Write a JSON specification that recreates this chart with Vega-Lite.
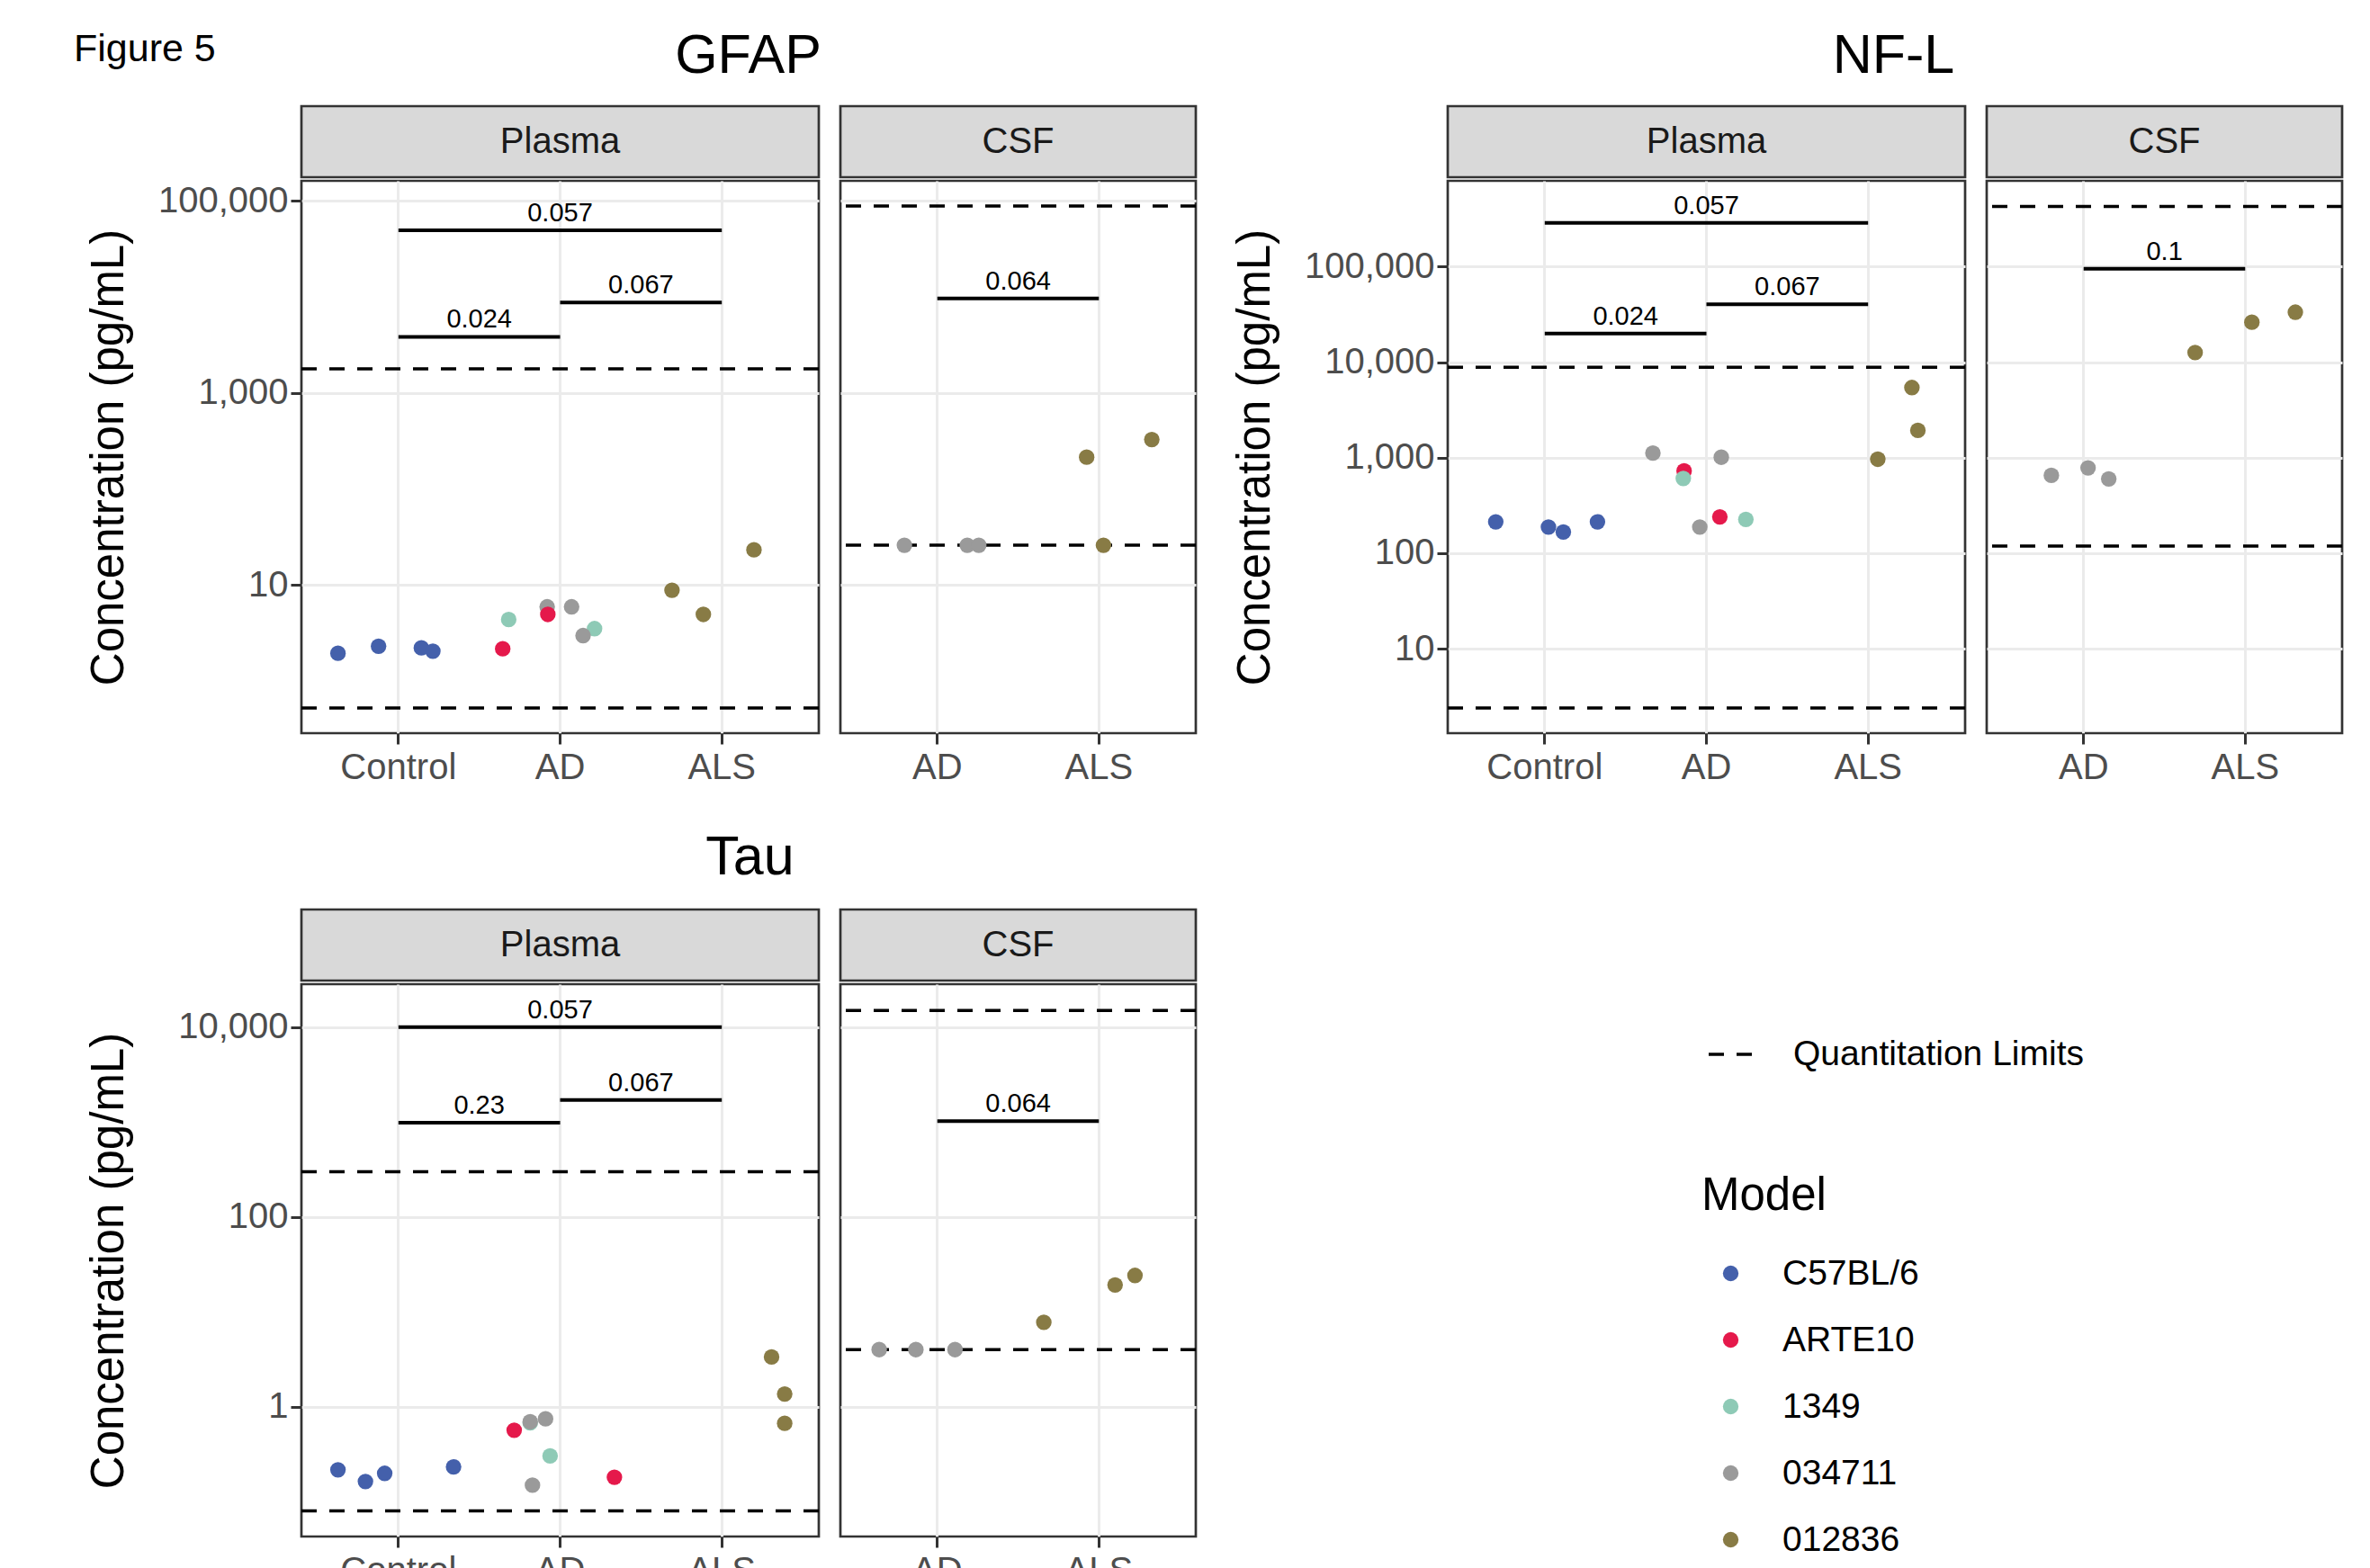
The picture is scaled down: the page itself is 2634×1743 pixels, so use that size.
{
  "$schema": "https://vega.github.io/schema/vega-lite/v6.json",
  "padding": {"left": 80, "top": 30, "right": 5, "bottom": 5},
  "datasets": {
    "points": [
      {"marker":"GFAP","fluid":"Plasma","group":"Control","model":"C57BL/6","jitter":-0.374,"value":1.95},
      {"marker":"GFAP","fluid":"Plasma","group":"Control","model":"C57BL/6","jitter":-0.123,"value":2.31},
      {"marker":"GFAP","fluid":"Plasma","group":"Control","model":"C57BL/6","jitter":0.142,"value":2.22},
      {"marker":"GFAP","fluid":"Plasma","group":"Control","model":"C57BL/6","jitter":0.213,"value":2.05},
      {"marker":"GFAP","fluid":"Plasma","group":"AD","model":"1349","jitter":-0.318,"value":4.38},
      {"marker":"GFAP","fluid":"Plasma","group":"AD","model":"1349","jitter":0.213,"value":3.52},
      {"marker":"GFAP","fluid":"Plasma","group":"AD","model":"034711","jitter":-0.08,"value":5.94},
      {"marker":"GFAP","fluid":"Plasma","group":"AD","model":"034711","jitter":0.071,"value":5.94},
      {"marker":"GFAP","fluid":"Plasma","group":"AD","model":"034711","jitter":0.142,"value":2.98},
      {"marker":"GFAP","fluid":"Plasma","group":"AD","model":"ARTE10","jitter":-0.355,"value":2.17},
      {"marker":"GFAP","fluid":"Plasma","group":"AD","model":"ARTE10","jitter":-0.076,"value":4.95},
      {"marker":"GFAP","fluid":"Plasma","group":"ALS","model":"012836","jitter":-0.308,"value":8.85},
      {"marker":"GFAP","fluid":"Plasma","group":"ALS","model":"012836","jitter":-0.114,"value":4.95},
      {"marker":"GFAP","fluid":"Plasma","group":"ALS","model":"012836","jitter":0.199,"value":23.3},
      {"marker":"GFAP","fluid":"CSF","group":"AD","model":"034711","jitter":-0.204,"value":26},
      {"marker":"GFAP","fluid":"CSF","group":"AD","model":"034711","jitter":0.185,"value":26},
      {"marker":"GFAP","fluid":"CSF","group":"AD","model":"034711","jitter":0.256,"value":26},
      {"marker":"GFAP","fluid":"CSF","group":"ALS","model":"012836","jitter":-0.076,"value":215},
      {"marker":"GFAP","fluid":"CSF","group":"ALS","model":"012836","jitter":0.028,"value":26},
      {"marker":"GFAP","fluid":"CSF","group":"ALS","model":"012836","jitter":0.327,"value":328},
      {"marker":"NF-L","fluid":"Plasma","group":"Control","model":"C57BL/6","jitter":-0.303,"value":213},
      {"marker":"NF-L","fluid":"Plasma","group":"Control","model":"C57BL/6","jitter":0.023,"value":188},
      {"marker":"NF-L","fluid":"Plasma","group":"Control","model":"C57BL/6","jitter":0.115,"value":167},
      {"marker":"NF-L","fluid":"Plasma","group":"Control","model":"C57BL/6","jitter":0.326,"value":213},
      {"marker":"NF-L","fluid":"Plasma","group":"AD","model":"ARTE10","jitter":-0.138,"value":728},
      {"marker":"NF-L","fluid":"Plasma","group":"AD","model":"ARTE10","jitter":0.083,"value":240},
      {"marker":"NF-L","fluid":"Plasma","group":"AD","model":"1349","jitter":-0.143,"value":607},
      {"marker":"NF-L","fluid":"Plasma","group":"AD","model":"1349","jitter":0.244,"value":226},
      {"marker":"NF-L","fluid":"Plasma","group":"AD","model":"034711","jitter":-0.331,"value":1117},
      {"marker":"NF-L","fluid":"Plasma","group":"AD","model":"034711","jitter":-0.041,"value":188},
      {"marker":"NF-L","fluid":"Plasma","group":"AD","model":"034711","jitter":0.092,"value":1012},
      {"marker":"NF-L","fluid":"Plasma","group":"ALS","model":"012836","jitter":0.06,"value":964},
      {"marker":"NF-L","fluid":"Plasma","group":"ALS","model":"012836","jitter":0.271,"value":5430},
      {"marker":"NF-L","fluid":"Plasma","group":"ALS","model":"012836","jitter":0.308,"value":1933},
      {"marker":"NF-L","fluid":"CSF","group":"AD","model":"034711","jitter":-0.2,"value":653},
      {"marker":"NF-L","fluid":"CSF","group":"AD","model":"034711","jitter":0.027,"value":783},
      {"marker":"NF-L","fluid":"CSF","group":"AD","model":"034711","jitter":0.155,"value":600},
      {"marker":"NF-L","fluid":"CSF","group":"ALS","model":"012836","jitter":-0.31,"value":12600},
      {"marker":"NF-L","fluid":"CSF","group":"ALS","model":"012836","jitter":0.041,"value":26200},
      {"marker":"NF-L","fluid":"CSF","group":"ALS","model":"012836","jitter":0.31,"value":33400},
      {"marker":"Tau","fluid":"Plasma","group":"Control","model":"C57BL/6","jitter":-0.374,"value":0.218},
      {"marker":"Tau","fluid":"Plasma","group":"Control","model":"C57BL/6","jitter":-0.204,"value":0.164},
      {"marker":"Tau","fluid":"Plasma","group":"Control","model":"C57BL/6","jitter":-0.085,"value":0.2},
      {"marker":"Tau","fluid":"Plasma","group":"Control","model":"C57BL/6","jitter":0.341,"value":0.234},
      {"marker":"Tau","fluid":"Plasma","group":"AD","model":"ARTE10","jitter":-0.284,"value":0.569},
      {"marker":"Tau","fluid":"Plasma","group":"AD","model":"ARTE10","jitter":0.336,"value":0.182},
      {"marker":"Tau","fluid":"Plasma","group":"AD","model":"1349","jitter":-0.185,"value":0.68},
      {"marker":"Tau","fluid":"Plasma","group":"AD","model":"1349","jitter":-0.062,"value":0.305},
      {"marker":"Tau","fluid":"Plasma","group":"AD","model":"034711","jitter":-0.185,"value":0.698},
      {"marker":"Tau","fluid":"Plasma","group":"AD","model":"034711","jitter":-0.09,"value":0.75},
      {"marker":"Tau","fluid":"Plasma","group":"AD","model":"034711","jitter":-0.171,"value":0.15},
      {"marker":"Tau","fluid":"Plasma","group":"ALS","model":"012836","jitter":0.308,"value":3.36},
      {"marker":"Tau","fluid":"Plasma","group":"ALS","model":"012836","jitter":0.389,"value":1.37},
      {"marker":"Tau","fluid":"Plasma","group":"ALS","model":"012836","jitter":0.389,"value":0.673},
      {"marker":"Tau","fluid":"CSF","group":"AD","model":"034711","jitter":-0.36,"value":4.02},
      {"marker":"Tau","fluid":"CSF","group":"AD","model":"034711","jitter":-0.133,"value":4.02},
      {"marker":"Tau","fluid":"CSF","group":"AD","model":"034711","jitter":0.109,"value":4.02},
      {"marker":"Tau","fluid":"CSF","group":"ALS","model":"012836","jitter":-0.341,"value":7.78},
      {"marker":"Tau","fluid":"CSF","group":"ALS","model":"012836","jitter":0.1,"value":19.3},
      {"marker":"Tau","fluid":"CSF","group":"ALS","model":"012836","jitter":0.223,"value":24.3}
    ],
    "limits": [
      {"marker":"GFAP","fluid":"Plasma","kind":"Quantitation Limits","value":1790},
      {"marker":"GFAP","fluid":"Plasma","kind":"Quantitation Limits","value":0.526},
      {"marker":"GFAP","fluid":"CSF","kind":"Quantitation Limits","value":88500},
      {"marker":"GFAP","fluid":"CSF","kind":"Quantitation Limits","value":26},
      {"marker":"NF-L","fluid":"Plasma","kind":"Quantitation Limits","value":8850},
      {"marker":"NF-L","fluid":"Plasma","kind":"Quantitation Limits","value":2.4},
      {"marker":"NF-L","fluid":"CSF","kind":"Quantitation Limits","value":427000},
      {"marker":"NF-L","fluid":"CSF","kind":"Quantitation Limits","value":119},
      {"marker":"Tau","fluid":"Plasma","kind":"Quantitation Limits","value":301},
      {"marker":"Tau","fluid":"Plasma","kind":"Quantitation Limits","value":0.0806},
      {"marker":"Tau","fluid":"CSF","kind":"Quantitation Limits","value":15000},
      {"marker":"Tau","fluid":"CSF","kind":"Quantitation Limits","value":4.02}
    ],
    "brackets": [
      {"marker":"GFAP","fluid":"Plasma","from":"Control","to":"ALS","y":49500,"p":"0.057","labelAt":"AD","shift":0},
      {"marker":"GFAP","fluid":"Plasma","from":"Control","to":"AD","y":3840,"p":"0.024","labelAt":"Control","shift":0.5},
      {"marker":"GFAP","fluid":"Plasma","from":"AD","to":"ALS","y":8750,"p":"0.067","labelAt":"AD","shift":0.5},
      {"marker":"GFAP","fluid":"CSF","from":"AD","to":"ALS","y":9640,"p":"0.064","labelAt":"AD","shift":0.5},
      {"marker":"NF-L","fluid":"Plasma","from":"Control","to":"ALS","y":288000,"p":"0.057","labelAt":"AD","shift":0},
      {"marker":"NF-L","fluid":"Plasma","from":"Control","to":"AD","y":20000,"p":"0.024","labelAt":"Control","shift":0.5},
      {"marker":"NF-L","fluid":"Plasma","from":"AD","to":"ALS","y":40500,"p":"0.067","labelAt":"AD","shift":0.5},
      {"marker":"NF-L","fluid":"CSF","from":"AD","to":"ALS","y":95300,"p":"0.1","labelAt":"AD","shift":0.5},
      {"marker":"Tau","fluid":"Plasma","from":"Control","to":"ALS","y":10000,"p":"0.057","labelAt":"AD","shift":0},
      {"marker":"Tau","fluid":"Plasma","from":"Control","to":"AD","y":988,"p":"0.23","labelAt":"Control","shift":0.5},
      {"marker":"Tau","fluid":"Plasma","from":"AD","to":"ALS","y":1715,"p":"0.067","labelAt":"AD","shift":0.5},
      {"marker":"Tau","fluid":"CSF","from":"AD","to":"ALS","y":1025,"p":"0.064","labelAt":"AD","shift":0.5}
    ]
  },
  "spacing": 46,
  "resolve": {"scale": {"color": "shared", "strokeDash": "shared"}},
  "vconcat": [
    {
      "spacing": 35,
      "hconcat": [
        {
          "spacing": 0,
          "vconcat": [
            {
              "bounds": "flush", "spacing": 24,
              "hconcat": [
                {"title": {"text": "Figure 5", "anchor": "start", "fontSize": 43, "offset": 41, "dx": -253, "frame": "bounds"},
                 "width": 575, "height": 79, "view": {"fill": "#D9D9D9", "stroke": "#333333", "strokeWidth": 2.7}, "data": {"values": [{"label": "Plasma"}]}, "mark": {"type": "text", "fontSize": 40, "color": "#1A1A1A"}, "encoding": {"text": {"field": "label"}}},
                {"title": {"text": "GFAP", "anchor": "middle", "fontSize": 61, "offset": 24, "dx": -300, "frame": "bounds"},
                 "width": 395, "height": 79, "view": {"fill": "#D9D9D9", "stroke": "#333333", "strokeWidth": 2.7}, "data": {"values": [{"label": "CSF"}]}, "mark": {"type": "text", "fontSize": 40, "color": "#1A1A1A"}, "encoding": {"text": {"field": "label"}}}
              ]
            },
            {
              "bounds": "flush", "spacing": 24,
              "hconcat": [
                {
                  "width": 575, "height": 614,
                  "resolve": {"axis": {"y": "independent"}},
                  "layer": [
                    {"data": {"name": "limits"}, "transform": [{"filter": "datum.marker === 'GFAP' && datum.fluid === 'Plasma'"}],
                     "mark": {"type": "rule", "strokeWidth": 3.5, "color": "black"},
                     "encoding": {
                       "y": {"field": "value", "type": "quantitative", "scale": {"type": "log", "domain": [0.287, 162000], "nice": false}, "axis": {"values": [10, 1000, 100000], "format": ",", "title": "Concentration (pg/mL)", "titlePadding": 28, "labelPadding": 3}},
                       "strokeDash": {"field": "kind", "type": "nominal", "scale": {"domain": ["Quantitation Limits"], "range": [[17, 14]]}, "legend": {"orient": "none", "legendX": 1562, "legendY": 1028, "title": null, "symbolType": "stroke", "symbolSize": 2304, "symbolStrokeWidth": 3.5, "symbolStrokeColor": "black", "labelOffset": 44}}
                     }},
                    {"data": {"name": "brackets"}, "transform": [{"filter": "datum.marker === 'GFAP' && datum.fluid === 'Plasma'"}],
                     "mark": {"type": "rule", "strokeWidth": 4, "color": "black"},
                     "encoding": {
                       "x": {"field": "from", "type": "nominal", "scale": {"type": "band", "domain": ["Control", "AD", "ALS"], "paddingInner": 0, "paddingOuter": 0.1}, "axis": {"title": null, "bandPosition": 0.5, "labelAngle": 0, "labelPadding": 6, "labelFontSize": 40, "grid": true}},
                       "x2": {"field": "to"},
                       "y": {"field": "y", "type": "quantitative", "axis": {"values": [1, 100, 10000], "orient": "left", "labels": false, "ticks": false, "title": null, "gridWidth": 1.8}}
                     }},
                    {"data": {"name": "brackets"}, "transform": [{"filter": "datum.marker === 'GFAP' && datum.fluid === 'Plasma'"}],
                     "mark": {"type": "text", "fontSize": 29, "baseline": "alphabetic", "dy": -10, "color": "black"},
                     "encoding": {
                       "x": {"field": "labelAt", "type": "nominal"},
                       "xOffset": {"field": "shift", "type": "quantitative", "scale": {"domain": [-0.5, 0.5]}},
                       "y": {"field": "y", "type": "quantitative", "axis": null},
                       "text": {"field": "p"}
                     }},
                    {"data": {"name": "points"}, "transform": [{"filter": "datum.marker === 'GFAP' && datum.fluid === 'Plasma'"}],
                     "mark": {"type": "circle", "size": 300, "opacity": 1},
                     "encoding": {
                       "x": {"field": "group", "type": "nominal"},
                       "xOffset": {"field": "jitter", "type": "quantitative", "scale": {"domain": [-0.5, 0.5]}},
                       "y": {"field": "value", "type": "quantitative", "axis": null},
                       "color": {"field": "model", "type": "nominal", "scale": {"domain": ["C57BL/6", "ARTE10", "1349", "034711", "012836"], "range": ["#4460AB", "#E5194B", "#8ECAB6", "#9A9A9A", "#887B45"]}, "legend": {"orient": "none", "legendX": 1556, "legendY": 1187, "title": "Model", "titlePadding": 40, "symbolType": "circle", "symbolSize": 300, "symbolOffset": 13, "labelOffset": 38, "rowPadding": 34, "symbolStrokeWidth": 0, "symbolOpacity": 1}}
                     }}
                  ]
                },
                {
                  "width": 395, "height": 614,
                  "resolve": {"axis": {"y": "independent"}},
                  "layer": [
                    {"data": {"name": "limits"}, "transform": [{"filter": "datum.marker === 'GFAP' && datum.fluid === 'CSF'"}],
                     "mark": {"type": "rule", "strokeWidth": 3.5, "color": "black"},
                     "encoding": {
                       "y": {"field": "value", "type": "quantitative", "scale": {"type": "log", "domain": [0.287, 162000], "nice": false}, "axis": {"values": [10, 1000, 100000], "labels": false, "ticks": false, "title": null}},
                       "strokeDash": {"field": "kind", "type": "nominal", "scale": {"domain": ["Quantitation Limits"], "range": [[17, 14]]}}
                     }},
                    {"data": {"name": "brackets"}, "transform": [{"filter": "datum.marker === 'GFAP' && datum.fluid === 'CSF'"}],
                     "mark": {"type": "rule", "strokeWidth": 4, "color": "black"},
                     "encoding": {
                       "x": {"field": "from", "type": "nominal", "scale": {"type": "band", "domain": ["AD", "ALS"], "paddingInner": 0, "paddingOuter": 0.1}, "axis": {"title": null, "bandPosition": 0.5, "labelAngle": 0, "labelPadding": 6, "labelFontSize": 40, "grid": true}},
                       "x2": {"field": "to"},
                       "y": {"field": "y", "type": "quantitative", "axis": {"values": [1, 100, 10000], "orient": "left", "labels": false, "ticks": false, "title": null, "gridWidth": 1.8}}
                     }},
                    {"data": {"name": "brackets"}, "transform": [{"filter": "datum.marker === 'GFAP' && datum.fluid === 'CSF'"}],
                     "mark": {"type": "text", "fontSize": 29, "baseline": "alphabetic", "dy": -10, "color": "black"},
                     "encoding": {
                       "x": {"field": "labelAt", "type": "nominal"},
                       "xOffset": {"field": "shift", "type": "quantitative", "scale": {"domain": [-0.5, 0.5]}},
                       "y": {"field": "y", "type": "quantitative", "axis": null},
                       "text": {"field": "p"}
                     }},
                    {"data": {"name": "points"}, "transform": [{"filter": "datum.marker === 'GFAP' && datum.fluid === 'CSF'"}],
                     "mark": {"type": "circle", "size": 300, "opacity": 1},
                     "encoding": {
                       "x": {"field": "group", "type": "nominal"},
                       "xOffset": {"field": "jitter", "type": "quantitative", "scale": {"domain": [-0.5, 0.5]}},
                       "y": {"field": "value", "type": "quantitative", "axis": null},
                       "color": {"field": "model", "type": "nominal", "scale": {"domain": ["C57BL/6", "ARTE10", "1349", "034711", "012836"], "range": ["#4460AB", "#E5194B", "#8ECAB6", "#9A9A9A", "#887B45"]}}
                     }}
                  ]
                }
              ]
            }
          ]
        },
        {
          "spacing": 0,
          "vconcat": [
            {
              "bounds": "flush", "spacing": 24,
              "hconcat": [
                {"width": 575, "height": 79, "view": {"fill": "#D9D9D9", "stroke": "#333333", "strokeWidth": 2.7}, "data": {"values": [{"label": "Plasma"}]}, "mark": {"type": "text", "fontSize": 40, "color": "#1A1A1A"}, "encoding": {"text": {"field": "label"}}},
                {"title": {"text": "NF-L", "anchor": "middle", "fontSize": 61, "offset": 24, "dx": -301, "frame": "bounds"},
                 "width": 395, "height": 79, "view": {"fill": "#D9D9D9", "stroke": "#333333", "strokeWidth": 2.7}, "data": {"values": [{"label": "CSF"}]}, "mark": {"type": "text", "fontSize": 40, "color": "#1A1A1A"}, "encoding": {"text": {"field": "label"}}}
              ]
            },
            {
              "bounds": "flush", "spacing": 24,
              "hconcat": [
                {
                  "width": 575, "height": 614,
                  "resolve": {"axis": {"y": "independent"}},
                  "layer": [
                    {"data": {"name": "limits"}, "transform": [{"filter": "datum.marker === 'NF-L' && datum.fluid === 'Plasma'"}],
                     "mark": {"type": "rule", "strokeWidth": 3.5, "color": "black"},
                     "encoding": {
                       "y": {"field": "value", "type": "quantitative", "scale": {"type": "log", "domain": [1.306, 792500], "nice": false}, "axis": {"values": [10, 100, 1000, 10000, 100000], "format": ",", "title": "Concentration (pg/mL)", "titlePadding": 28, "labelPadding": 3}},
                       "strokeDash": {"field": "kind", "type": "nominal", "scale": {"domain": ["Quantitation Limits"], "range": [[17, 14]]}}
                     }},
                    {"data": {"name": "brackets"}, "transform": [{"filter": "datum.marker === 'NF-L' && datum.fluid === 'Plasma'"}],
                     "mark": {"type": "rule", "strokeWidth": 4, "color": "black"},
                     "encoding": {
                       "x": {"field": "from", "type": "nominal", "scale": {"type": "band", "domain": ["Control", "AD", "ALS"], "paddingInner": 0, "paddingOuter": 0.1}, "axis": {"title": null, "bandPosition": 0.5, "labelAngle": 0, "labelPadding": 6, "labelFontSize": 40, "grid": true}},
                       "x2": {"field": "to"},
                       "y": {"field": "y", "type": "quantitative", "axis": {"values": [3.162, 31.62, 316.2, 3162, 31623, 316228], "orient": "left", "labels": false, "ticks": false, "title": null, "gridWidth": 1.8}}
                     }},
                    {"data": {"name": "brackets"}, "transform": [{"filter": "datum.marker === 'NF-L' && datum.fluid === 'Plasma'"}],
                     "mark": {"type": "text", "fontSize": 29, "baseline": "alphabetic", "dy": -10, "color": "black"},
                     "encoding": {
                       "x": {"field": "labelAt", "type": "nominal"},
                       "xOffset": {"field": "shift", "type": "quantitative", "scale": {"domain": [-0.5, 0.5]}},
                       "y": {"field": "y", "type": "quantitative", "axis": null},
                       "text": {"field": "p"}
                     }},
                    {"data": {"name": "points"}, "transform": [{"filter": "datum.marker === 'NF-L' && datum.fluid === 'Plasma'"}],
                     "mark": {"type": "circle", "size": 300, "opacity": 1},
                     "encoding": {
                       "x": {"field": "group", "type": "nominal"},
                       "xOffset": {"field": "jitter", "type": "quantitative", "scale": {"domain": [-0.5, 0.5]}},
                       "y": {"field": "value", "type": "quantitative", "axis": null},
                       "color": {"field": "model", "type": "nominal", "scale": {"domain": ["C57BL/6", "ARTE10", "1349", "034711", "012836"], "range": ["#4460AB", "#E5194B", "#8ECAB6", "#9A9A9A", "#887B45"]}}
                     }}
                  ]
                },
                {
                  "width": 395, "height": 614,
                  "resolve": {"axis": {"y": "independent"}},
                  "layer": [
                    {"data": {"name": "limits"}, "transform": [{"filter": "datum.marker === 'NF-L' && datum.fluid === 'CSF'"}],
                     "mark": {"type": "rule", "strokeWidth": 3.5, "color": "black"},
                     "encoding": {
                       "y": {"field": "value", "type": "quantitative", "scale": {"type": "log", "domain": [1.306, 792500], "nice": false}, "axis": {"values": [10, 100, 1000, 10000, 100000], "labels": false, "ticks": false, "title": null}},
                       "strokeDash": {"field": "kind", "type": "nominal", "scale": {"domain": ["Quantitation Limits"], "range": [[17, 14]]}}
                     }},
                    {"data": {"name": "brackets"}, "transform": [{"filter": "datum.marker === 'NF-L' && datum.fluid === 'CSF'"}],
                     "mark": {"type": "rule", "strokeWidth": 4, "color": "black"},
                     "encoding": {
                       "x": {"field": "from", "type": "nominal", "scale": {"type": "band", "domain": ["AD", "ALS"], "paddingInner": 0, "paddingOuter": 0.1}, "axis": {"title": null, "bandPosition": 0.5, "labelAngle": 0, "labelPadding": 6, "labelFontSize": 40, "grid": true}},
                       "x2": {"field": "to"},
                       "y": {"field": "y", "type": "quantitative", "axis": {"values": [3.162, 31.62, 316.2, 3162, 31623, 316228], "orient": "left", "labels": false, "ticks": false, "title": null, "gridWidth": 1.8}}
                     }},
                    {"data": {"name": "brackets"}, "transform": [{"filter": "datum.marker === 'NF-L' && datum.fluid === 'CSF'"}],
                     "mark": {"type": "text", "fontSize": 29, "baseline": "alphabetic", "dy": -10, "color": "black"},
                     "encoding": {
                       "x": {"field": "labelAt", "type": "nominal"},
                       "xOffset": {"field": "shift", "type": "quantitative", "scale": {"domain": [-0.5, 0.5]}},
                       "y": {"field": "y", "type": "quantitative", "axis": null},
                       "text": {"field": "p"}
                     }},
                    {"data": {"name": "points"}, "transform": [{"filter": "datum.marker === 'NF-L' && datum.fluid === 'CSF'"}],
                     "mark": {"type": "circle", "size": 300, "opacity": 1},
                     "encoding": {
                       "x": {"field": "group", "type": "nominal"},
                       "xOffset": {"field": "jitter", "type": "quantitative", "scale": {"domain": [-0.5, 0.5]}},
                       "y": {"field": "value", "type": "quantitative", "axis": null},
                       "color": {"field": "model", "type": "nominal", "scale": {"domain": ["C57BL/6", "ARTE10", "1349", "034711", "012836"], "range": ["#4460AB", "#E5194B", "#8ECAB6", "#9A9A9A", "#887B45"]}}
                     }}
                  ]
                }
              ]
            }
          ]
        }
      ]
    },
    {
      "spacing": 0,
      "vconcat": [
        {
          "bounds": "flush", "spacing": 24,
          "hconcat": [
            {"width": 575, "height": 79, "view": {"fill": "#D9D9D9", "stroke": "#333333", "strokeWidth": 2.7}, "data": {"values": [{"label": "Plasma"}]}, "mark": {"type": "text", "fontSize": 40, "color": "#1A1A1A"}, "encoding": {"text": {"field": "label"}}},
            {"title": {"text": "Tau", "anchor": "middle", "fontSize": 61, "offset": 26, "dx": -298, "frame": "bounds"},
             "width": 395, "height": 79, "view": {"fill": "#D9D9D9", "stroke": "#333333", "strokeWidth": 2.7}, "data": {"values": [{"label": "CSF"}]}, "mark": {"type": "text", "fontSize": 40, "color": "#1A1A1A"}, "encoding": {"text": {"field": "label"}}}
          ]
        },
        {
          "bounds": "flush", "spacing": 24,
          "hconcat": [
            {
              "width": 575, "height": 614,
              "resolve": {"axis": {"y": "independent"}},
              "layer": [
                {"data": {"name": "limits"}, "transform": [{"filter": "datum.marker === 'Tau' && datum.fluid === 'Plasma'"}],
                 "mark": {"type": "rule", "strokeWidth": 3.5, "color": "black"},
                 "encoding": {
                   "y": {"field": "value", "type": "quantitative", "scale": {"type": "log", "domain": [0.0432, 28400], "nice": false}, "axis": {"values": [1, 100, 10000], "format": ",", "title": "Concentration (pg/mL)", "titlePadding": 50, "labelPadding": 3}},
                   "strokeDash": {"field": "kind", "type": "nominal", "scale": {"domain": ["Quantitation Limits"], "range": [[17, 14]]}}
                 }},
                {"data": {"name": "brackets"}, "transform": [{"filter": "datum.marker === 'Tau' && datum.fluid === 'Plasma'"}],
                 "mark": {"type": "rule", "strokeWidth": 4, "color": "black"},
                 "encoding": {
                   "x": {"field": "from", "type": "nominal", "scale": {"type": "band", "domain": ["Control", "AD", "ALS"], "paddingInner": 0, "paddingOuter": 0.1}, "axis": {"title": null, "bandPosition": 0.5, "labelAngle": 0, "labelPadding": 6, "labelFontSize": 40, "grid": true}},
                   "x2": {"field": "to"},
                   "y": {"field": "y", "type": "quantitative", "axis": {"values": [0.1, 10, 1000], "orient": "left", "labels": false, "ticks": false, "title": null, "gridWidth": 1.8}}
                 }},
                {"data": {"name": "brackets"}, "transform": [{"filter": "datum.marker === 'Tau' && datum.fluid === 'Plasma'"}],
                 "mark": {"type": "text", "fontSize": 29, "baseline": "alphabetic", "dy": -10, "color": "black"},
                 "encoding": {
                   "x": {"field": "labelAt", "type": "nominal"},
                   "xOffset": {"field": "shift", "type": "quantitative", "scale": {"domain": [-0.5, 0.5]}},
                   "y": {"field": "y", "type": "quantitative", "axis": null},
                   "text": {"field": "p"}
                 }},
                {"data": {"name": "points"}, "transform": [{"filter": "datum.marker === 'Tau' && datum.fluid === 'Plasma'"}],
                 "mark": {"type": "circle", "size": 300, "opacity": 1},
                 "encoding": {
                   "x": {"field": "group", "type": "nominal"},
                   "xOffset": {"field": "jitter", "type": "quantitative", "scale": {"domain": [-0.5, 0.5]}},
                   "y": {"field": "value", "type": "quantitative", "axis": null},
                   "color": {"field": "model", "type": "nominal", "scale": {"domain": ["C57BL/6", "ARTE10", "1349", "034711", "012836"], "range": ["#4460AB", "#E5194B", "#8ECAB6", "#9A9A9A", "#887B45"]}}
                 }}
              ]
            },
            {
              "width": 395, "height": 614,
              "resolve": {"axis": {"y": "independent"}},
              "layer": [
                {"data": {"name": "limits"}, "transform": [{"filter": "datum.marker === 'Tau' && datum.fluid === 'CSF'"}],
                 "mark": {"type": "rule", "strokeWidth": 3.5, "color": "black"},
                 "encoding": {
                   "y": {"field": "value", "type": "quantitative", "scale": {"type": "log", "domain": [0.0432, 28400], "nice": false}, "axis": {"values": [1, 100, 10000], "labels": false, "ticks": false, "title": null}},
                   "strokeDash": {"field": "kind", "type": "nominal", "scale": {"domain": ["Quantitation Limits"], "range": [[17, 14]]}}
                 }},
                {"data": {"name": "brackets"}, "transform": [{"filter": "datum.marker === 'Tau' && datum.fluid === 'CSF'"}],
                 "mark": {"type": "rule", "strokeWidth": 4, "color": "black"},
                 "encoding": {
                   "x": {"field": "from", "type": "nominal", "scale": {"type": "band", "domain": ["AD", "ALS"], "paddingInner": 0, "paddingOuter": 0.1}, "axis": {"title": null, "bandPosition": 0.5, "labelAngle": 0, "labelPadding": 6, "labelFontSize": 40, "grid": true}},
                   "x2": {"field": "to"},
                   "y": {"field": "y", "type": "quantitative", "axis": {"values": [0.1, 10, 1000], "orient": "left", "labels": false, "ticks": false, "title": null, "gridWidth": 1.8}}
                 }},
                {"data": {"name": "brackets"}, "transform": [{"filter": "datum.marker === 'Tau' && datum.fluid === 'CSF'"}],
                 "mark": {"type": "text", "fontSize": 29, "baseline": "alphabetic", "dy": -10, "color": "black"},
                 "encoding": {
                   "x": {"field": "labelAt", "type": "nominal"},
                   "xOffset": {"field": "shift", "type": "quantitative", "scale": {"domain": [-0.5, 0.5]}},
                   "y": {"field": "y", "type": "quantitative", "axis": null},
                   "text": {"field": "p"}
                 }},
                {"data": {"name": "points"}, "transform": [{"filter": "datum.marker === 'Tau' && datum.fluid === 'CSF'"}],
                 "mark": {"type": "circle", "size": 300, "opacity": 1},
                 "encoding": {
                   "x": {"field": "group", "type": "nominal"},
                   "xOffset": {"field": "jitter", "type": "quantitative", "scale": {"domain": [-0.5, 0.5]}},
                   "y": {"field": "value", "type": "quantitative", "axis": null},
                   "color": {"field": "model", "type": "nominal", "scale": {"domain": ["C57BL/6", "ARTE10", "1349", "034711", "012836"], "range": ["#4460AB", "#E5194B", "#8ECAB6", "#9A9A9A", "#887B45"]}}
                 }}
              ]
            }
          ]
        }
      ]
    }
  ],
  "config": {
    "font": "Liberation Sans, Arial, sans-serif",
    "view": {"stroke": "#333333", "strokeWidth": 2.7},
    "axis": {"minExtent": 0, "domain": false, "gridColor": "#EBEBEB", "gridWidth": 3, "tickColor": "#333333", "tickWidth": 3, "tickSize": 12, "labelColor": "#4D4D4D", "labelFontSize": 40, "titleFontSize": 51, "titleFontWeight": "normal", "titleColor": "black"},
    "title": {"fontWeight": "normal", "color": "black"},
    "legend": {"labelFontSize": 39, "labelColor": "black", "titleFontSize": 51, "titleFontWeight": "normal", "titleColor": "black", "padding": 0, "labelLimit": 0}
  }
}
